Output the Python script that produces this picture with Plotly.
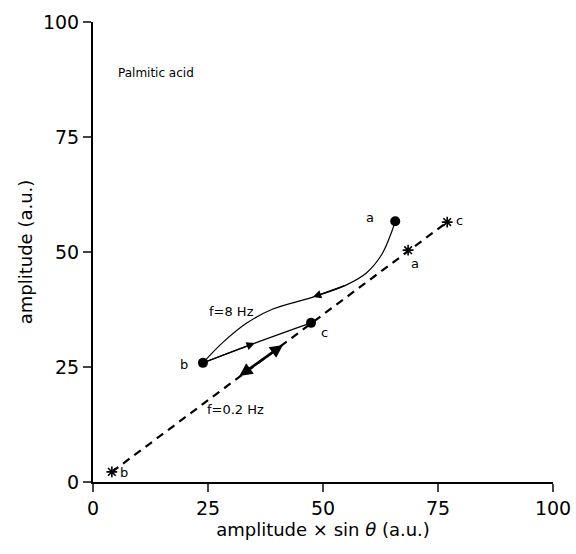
import plotly.graph_objects as go

# Data
upper_x = [65.7, 64.9, 62.8, 59.5, 55.0, 47.8, 39.1, 33.5, 28.3, 23.9]
upper_y = [56.7, 54.3, 49.5, 45.5, 42.8, 40.2, 37.6, 34.6, 30.4, 25.9]
lower_x = [23.9, 35.2, 47.4]
lower_y = [25.9, 30.2, 34.6]
dots_x = [65.7, 23.9, 47.4]
dots_y = [56.7, 25.9, 34.6]
dots_lab = ["a", "b", "c"]
star_x = [4.1, 68.5, 77.0]
star_y = [2.2, 50.4, 56.5]
star_lab = ["b", "a", "c"]
arrow02_x = [31.5, 41.3]
arrow02_y = [22.8, 29.8]
ticks = [0, 25, 50, 75, 100]

FONT = "DejaVu Sans"
fig = go.Figure()

# dashed line through asterisks (f=0.2 Hz)
fig.add_trace(go.Scatter(x=[star_x[0], star_x[2]], y=[star_y[0], star_y[2]], mode="lines",
                         line=dict(color="black", width=2.2, dash="8px,6px"), hoverinfo="skip"))
fig.add_trace(go.Scatter(x=star_x, y=star_y, mode="markers",
                         marker=dict(symbol="asterisk-open", size=9, color="black",
                                     line=dict(color="black", width=1.6)), hoverinfo="skip"))
# f=8 Hz loop
fig.add_trace(go.Scatter(x=upper_x, y=upper_y, mode="lines", line=dict(color="black", width=1.2, shape="spline"),
                         hoverinfo="skip"))
fig.add_trace(go.Scatter(x=lower_x, y=lower_y, mode="lines", line=dict(color="black", width=1.2, shape="spline"),
                         hoverinfo="skip"))
fig.add_trace(go.Scatter(x=dots_x, y=dots_y, mode="markers",
                         marker=dict(symbol="circle", size=10, color="black"), hoverinfo="skip"))

ann = []
# arrows along curves
ann.append(dict(x=upper_x[5], y=upper_y[5], ax=upper_x[4], ay=upper_y[4], xref="x", yref="y",
                axref="x", ayref="y", showarrow=True, arrowhead=2, arrowsize=1.4, arrowwidth=1.2,
                arrowcolor="black", text=""))
ann.append(dict(x=lower_x[1], y=lower_y[1], ax=lower_x[0], ay=lower_y[0], xref="x", yref="y",
                axref="x", ayref="y", showarrow=True, arrowhead=2, arrowsize=1.4, arrowwidth=1.2,
                arrowcolor="black", text=""))
ann.append(dict(x=arrow02_x[1], y=arrow02_y[1], ax=arrow02_x[0], ay=arrow02_y[0], xref="x", yref="y",
                axref="x", ayref="y", showarrow=True, arrowhead=2, startarrowhead=2, arrowside="end+start",
                arrowsize=1.0, startarrowsize=1.0, arrowwidth=2.6, arrowcolor="black", text=""))

# point labels
dot_off = [(-5.5, 0.8), (-4.2, -0.3), (3.0, -2.0)]
for x, y, t, (dx, dy) in zip(dots_x, dots_y, dots_lab, dot_off):
    ann.append(dict(x=x + dx, y=y + dy, text=t, showarrow=False, xref="x", yref="y",
                    font=dict(family=FONT, size=13, color="black")))
star_off = [(2.7, -0.2), (1.6, -2.8), (2.6, 0.3)]
for x, y, t, (dx, dy) in zip(star_x, star_y, star_lab, star_off):
    ann.append(dict(x=x + dx, y=y + dy, text=t, showarrow=False, xref="x", yref="y",
                    font=dict(family=FONT, size=13, color="black")))

ann.append(dict(x=5, y=88.9, text="Palmitic acid", showarrow=False, xanchor="left", xref="x", yref="y",
                font=dict(family=FONT, size=12, color="black")))
ann.append(dict(x=24.8, y=37.0, text="f=8 Hz", showarrow=False, xanchor="left", xref="x", yref="y",
                font=dict(family=FONT, size=13, color="black")))
ann.append(dict(x=24.3, y=15.7, text="f=0.2 Hz", showarrow=False, xanchor="left", xref="x", yref="y",
                font=dict(family=FONT, size=13, color="black")))

fig.update_layout(
    width=576, height=554, showlegend=False,
    margin=dict(l=93, r=23, t=22, b=72),
    paper_bgcolor="white", plot_bgcolor="white",
    annotations=ann,
    font=dict(family=FONT, color="black"),
)
fig.update_xaxes(range=[0, 100], tickvals=ticks, ticks="outside", ticklen=8, tickwidth=1.5, automargin=False,
                 showline=True, linecolor="black", linewidth=2, showgrid=False, zeroline=False,
                 tickfont=dict(family=FONT, size=19, color="black"),
                 title=dict(text="amplitude × sin <i>θ</i> (a.u.)", font=dict(family=FONT, size=18, color="black"),
                            standoff=2))
fig.update_yaxes(range=[0, 100], tickvals=ticks, ticks="outside", ticklen=8, tickwidth=1.5, automargin=False,
                 showline=True, linecolor="black", linewidth=2, showgrid=False, zeroline=False,
                 tickfont=dict(family=FONT, size=19, color="black"),
                 title=dict(text="amplitude (a.u.)", font=dict(family=FONT, size=18, color="black"),
                            standoff=6))

fig.write_html("out.html")
